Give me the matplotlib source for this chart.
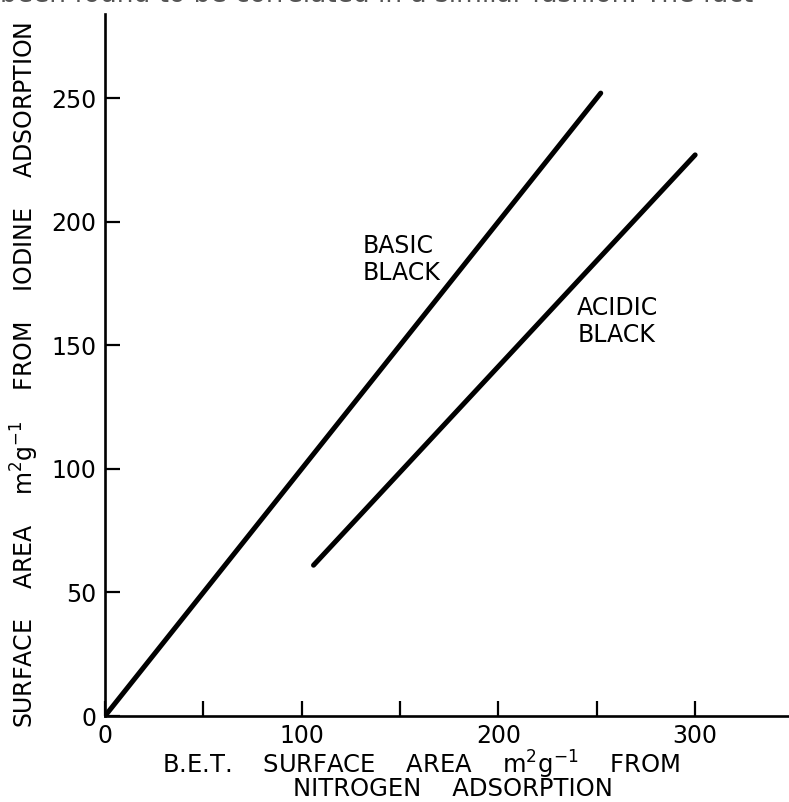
import matplotlib
matplotlib.use("Agg")
import matplotlib.pyplot as plt
from matplotlib.ticker import MultipleLocator

# Iodine-adsorption surface area vs. B.E.T. (nitrogen) surface area, m^2/g
basic_x = [0, 252]
basic_y = [0, 252]
acidic_x = [106, 300]
acidic_y = [61, 227]

x_ticks = [0, 100, 200, 300]
y_ticks = [0, 50, 100, 150, 200, 250]

plt.rcParams["font.family"] = ["DejaVu Sans"]

fig = plt.figure(figsize=(7.89, 8.02), dpi=100)
ax = fig.add_axes([105 / 789, 86 / 802, 684 / 789, 702 / 802])

ax.plot(basic_x, basic_y, color="black", lw=3.6, solid_capstyle="round")
ax.plot(acidic_x, acidic_y, color="black", lw=3.6, solid_capstyle="round")

ax.set_xlim(0, 347.7)
ax.set_ylim(0, 284)

ax.spines["top"].set_visible(False)
ax.spines["right"].set_visible(False)
for s in ("left", "bottom"):
    ax.spines[s].set_linewidth(1.9)

ax.set_xticks(x_ticks)
ax.set_yticks(y_ticks)
ax.xaxis.set_minor_locator(MultipleLocator(50))
ax.tick_params(axis="both", which="both", direction="in", length=11, width=1.6,
               labelsize=17)
ax.tick_params(axis="x", which="major", pad=6)
ax.tick_params(axis="y", which="major", pad=6)
ax.tick_params(axis="y", which="minor", length=0)

# curve labels
ax.text(131, 195, "BASIC\nBLACK", fontsize=17, va="top", ha="left",
        linespacing=1.15)
ax.text(240, 170, "ACIDIC\nBLACK", fontsize=17, va="top", ha="left",
        linespacing=1.15)

# axis titles
fig.text(421 / 789, 1 - 774 / 802,
         "B.E.T.    SURFACE    AREA    m$^2$g$^{-1}$    FROM",
         fontsize=17.5, ha="center", va="baseline")
fig.text(453 / 789, 1 - 796 / 802, "NITROGEN    ADSORPTION",
         fontsize=17.5, ha="center", va="baseline")
fig.text(25 / 789, 1 - 375 / 802,
         "SURFACE    AREA    m$^2$g$^{-1}$    FROM    IODINE    ADSORPTION",
         fontsize=17, rotation=90, ha="center", va="center")

# line of running text at the top edge of the page
fig.text(0.0, 1 - 1.5 / 802,
         "been found to be correlated in a similar fashion. The fact",
         fontsize=19, color="#555555", ha="left", va="baseline")

fig.savefig("out.png", dpi=100, facecolor="white")
